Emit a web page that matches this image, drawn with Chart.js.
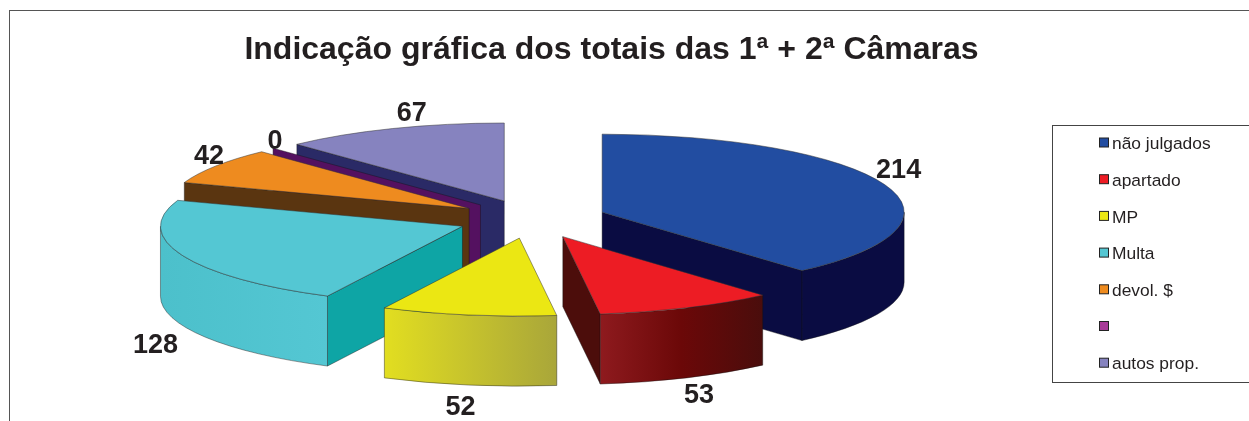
<!DOCTYPE html>
<html><head><meta charset="utf-8">
<style>html,body{margin:0;padding:0;background:#fff}canvas{display:block}</style>
<script src="https://cdn.jsdelivr.net/npm/chart.js@4"></script>
</head><body><canvas id="c" width="1249" height="421"></canvas>
<script>
const categories = ['não julgados','apartado','MP','Multa','devol. $','','autos prop.'];
const values = [214,53,52,128,42,0,67];
const topColors = ['#224da1','#ed1c24','#ebe713','#54c7d3','#ee8b1f','#a83a98','#8683bf'];
const wallColors = ['#0a0c42','#4c0d0b','#a9a63a','#0ea5a5','#5a3510','#541160','#2a2a66'];
const sideStops = [['#0a0c42','#0a0c42'],['#8e1a1e','#6b0808','#4a0d0c'],['#e2de20','#a9a63a'],['#4cc0cb','#54c7d3'],['#5a3510','#5a3510'],['#541160','#541160'],['#2a2a66','#2a2a66']];
const paintOrder = [6,5,4,0,3,2,1];
const labelShift = [[14,-14],[12,88],[-8,93],[-27,90],[-7,-9],[2,-7],[19,-15]];
const G = {cx:532, cy:219, R:302, k:0.2583, explode:75, depth:70};
const FONT = '"Liberation Sans", Arial, sans-serif';

const pie3d = {
  id:'pie3d',
  afterDatasetsUpdate(chart){
    chart.getDatasetMeta(0).data.forEach(a=>{
      a.x=G.cx; a.y=G.cy; a.outerRadius=G.R; a.innerRadius=0;
    });
  },
  beforeDraw(chart){
    const c=chart.ctx; c.save();
    c.strokeStyle='#555'; c.lineWidth=1;
    c.strokeRect(9.5,10.5,1300,500);
    c.restore();
  },
  beforeDatasetsDraw(chart){
    const c=chart.ctx, arcs=chart.getDatasetMeta(0).data;
    paintOrder.forEach(i=>{
      const a=arcs[i], s=a.startAngle, e=a.endAngle, m=(s+e)/2;
      const bx=G.cx+Math.cos(m)*G.explode, by=G.cy+Math.sin(m)*G.explode*G.k;
      const px=t=>bx+G.R*Math.cos(t), py=t=>by+G.R*G.k*Math.sin(t);
      const wall=t=>{
        c.beginPath(); c.moveTo(bx,by); c.lineTo(px(t),py(t));
        c.lineTo(px(t),py(t)+G.depth); c.lineTo(bx,by+G.depth); c.closePath();
        c.fillStyle=wallColors[i]; c.fill();
        c.strokeStyle='rgba(20,20,20,.7)'; c.lineWidth=.6; c.stroke();
      };
      if(Math.cos(s)<-1e-6) wall(s);
      if(Math.cos(e)>1e-6) wall(e);
      const v0=Math.max(s,0), v1=Math.min(e,Math.PI);
      if(v1>v0){
        c.beginPath();
        c.ellipse(bx,by,G.R,G.R*G.k,0,v0,v1,false);
        c.ellipse(bx,by+G.depth,G.R,G.R*G.k,0,v1,v0,true);
        c.closePath();
        const xa=Math.min(px(v0),px(v1)), xb=Math.max(px(v0),px(v1));
        const g=c.createLinearGradient(xa,0,xb,0), st=sideStops[i];
        st.forEach((col,n)=>g.addColorStop(n/(st.length-1),col));
        c.fillStyle=g; c.fill();
        c.strokeStyle='rgba(20,20,20,.7)'; c.lineWidth=.6; c.stroke();
      }
      c.save();
      c.translate(bx,by); c.scale(1,G.k); c.translate(-G.cx,-G.cy);
      a.draw(c);
      c.restore();
    });
    c.save();
    c.font='bold 27px '+FONT; c.fillStyle='#231f20';
    c.textAlign='center'; c.textBaseline='middle';
    arcs.forEach((a,i)=>{
      const m=(a.startAngle+a.endAngle)/2;
      const bx=G.cx+Math.cos(m)*G.explode, by=G.cy+Math.sin(m)*G.explode*G.k;
      c.fillText(String(values[i]), bx+G.R*Math.cos(m)+labelShift[i][0], by+G.R*G.k*Math.sin(m)+labelShift[i][1]);
    });
    c.restore();
    return false;
  },
  afterDraw(chart){
    const c=chart.ctx; c.save();
    c.strokeStyle='#444'; c.lineWidth=1;
    c.fillStyle='#fff'; c.fillRect(1052,125,300,258);
    c.strokeRect(1052.5,125.5,300,257);
    c.font='17.4px '+FONT; c.textBaseline='middle'; c.textAlign='left';
    categories.forEach((t,i)=>{
      const y=144.5+i*36.7;
      c.fillStyle=topColors[i]; c.fillRect(1099.5,y-6.5,9,9);
      c.strokeStyle='#222'; c.strokeRect(1099.5,y-6.5,9,9);
      c.fillStyle='#231f20'; c.fillText(t,1112,y);
    });
    c.restore();
  }
};

new Chart(document.getElementById('c'),{
  type:'pie',
  data:{labels:categories,datasets:[{data:values,backgroundColor:topColors,borderColor:'#333',borderWidth:.8}]},
  options:{
    responsive:false,animation:false,events:[],
    layout:{padding:{right:26,top:10}},
    plugins:{
      legend:{display:false},tooltip:{enabled:false},
      title:{display:true,text:'Indicação gráfica dos totais das 1ª + 2ª Câmaras',
        color:'#231f20',font:{family:FONT,size:32,weight:'bold'},padding:{top:21,bottom:10}}
    }
  },
  plugins:[pie3d]
});
</script></body></html>
